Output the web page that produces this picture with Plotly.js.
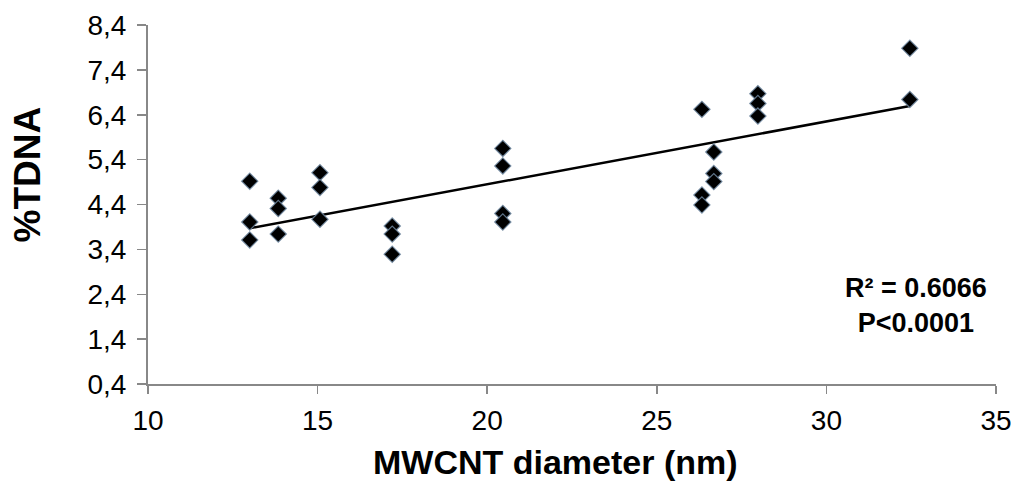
<!DOCTYPE html>
<html>
<head>
<meta charset="utf-8">
<script src="https://cdn.plot.ly/plotly-3.0.1.min.js"></script>
<style>
  html, body { margin: 0; padding: 0; background: #ffffff; }
  #chart { width: 1011px; height: 487px; }
</style>
</head>
<body>
<div id="chart"></div>
<script>
// Data
const diameter = [13.0, 13.0, 13.0, 13.84, 13.84, 13.84, 15.07, 15.07, 15.07,
                  17.2, 17.2, 17.2, 20.46, 20.46, 20.46, 20.46,
                  26.33, 26.33, 26.33, 26.68, 26.68, 26.68,
                  27.98, 27.98, 27.98, 32.46, 32.46];
const tdna = [4.92, 4.01, 3.61, 4.54, 4.31, 3.74, 5.11, 4.78, 4.07,
              3.92, 3.74, 3.29, 5.65, 5.26, 4.20, 4.01,
              6.52, 4.61, 4.39, 5.57, 5.09, 4.91,
              6.87, 6.65, 6.37, 7.88, 6.74];
const yTicks = [0.4, 1.4, 2.4, 3.4, 4.4, 5.4, 6.4, 7.4, 8.4];
const xTicks = [10, 15, 20, 25, 30, 35];
const xTitle = 'MWCNT diameter (nm)';
const yTitle = '%TDNA';
const statsText = ['R² = 0.6066', 'P<0.0001'];

// Least-squares trend line from the data
const n = diameter.length;
const mx = diameter.reduce((a, b) => a + b, 0) / n;
const my = tdna.reduce((a, b) => a + b, 0) / n;
let sxy = 0, sxx = 0;
for (let i = 0; i < n; i++) {
  sxy += (diameter[i] - mx) * (tdna[i] - my);
  sxx += (diameter[i] - mx) * (diameter[i] - mx);
}
const slope = sxy / sxx;
const intercept = my - slope * mx;
const xMin = Math.min(...diameter), xMax = Math.max(...diameter);
const trendX = [xMin, xMax];
const trendY = trendX.map(v => intercept + slope * v);

const traces = [
  {
    x: trendX, y: trendY, type: 'scatter', mode: 'lines',
    line: { color: '#000000', width: 2.5 },
    hoverinfo: 'skip', showlegend: false
  },
  {
    x: diameter, y: tdna, type: 'scatter', mode: 'markers',
    marker: { symbol: 'diamond', size: 12.5, color: '#000000',
              line: { color: 'rgba(110,135,160,0.85)', width: 1.2 } },
    showlegend: false
  }
];

const axisFont = { family: 'Liberation Sans, Arial, sans-serif', color: '#000000' };

const layout = {
  width: 1011, height: 487,
  margin: { l: 148, r: 15, t: 25, b: 103 },
  paper_bgcolor: '#ffffff', plot_bgcolor: '#ffffff',
  separators: ',.',
  showlegend: false,
  xaxis: {
    range: [10, 35], tickmode: 'array', tickvals: xTicks,
    ticks: 'outside', ticklen: 8, tickwidth: 1.5, tickcolor: '#888888',
    ticklabelstandoff: 2, ticklabeloverflow: 'allow',
    showline: true, linecolor: '#888888', linewidth: 2,
    showgrid: false, zeroline: false,
    tickfont: Object.assign({ size: 28 }, axisFont)
  },
  yaxis: {
    range: [0.4, 8.4], tickmode: 'array', tickvals: yTicks,
    tickformat: '.1f',
    ticks: 'outside', ticklen: 9, tickwidth: 1.5, tickcolor: '#888888',
    ticklabelstandoff: 5, ticklabeloverflow: 'allow',
    showline: true, linecolor: '#888888', linewidth: 2,
    showgrid: false, zeroline: false,
    tickfont: Object.assign({ size: 28 }, axisFont)
  },
  annotations: [
    {
      xref: 'paper', yref: 'paper', x: 0.906, y: 0.22,
      xanchor: 'center', yanchor: 'middle',
      text: '<b>' + statsText.join('<br>') + '</b>',
      showarrow: false, align: 'center',
      font: Object.assign({ size: 27 }, axisFont)
    },
    {
      xref: 'paper', yref: 'paper', x: 0.481, y: -0.218,
      xanchor: 'center', yanchor: 'middle',
      text: '<b>' + xTitle + '</b>', showarrow: false,
      font: Object.assign({ size: 34 }, axisFont)
    },
    {
      xref: 'paper', yref: 'paper', x: -0.141, y: 0.585,
      xanchor: 'center', yanchor: 'middle', textangle: -90,
      text: '<b>' + yTitle + '</b>', showarrow: false,
      font: Object.assign({ size: 37 }, axisFont)
    }
  ]
};

Plotly.newPlot('chart', traces, layout, { displayModeBar: false, staticPlot: true });
</script>
</body>
</html>
